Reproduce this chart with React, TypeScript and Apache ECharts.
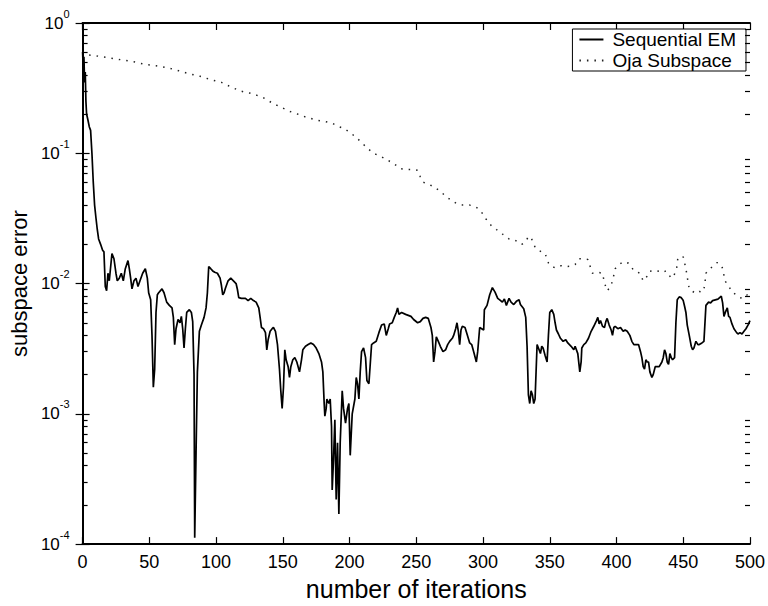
import React, { useEffect, useRef } from "react";
import * as echarts from "echarts";

// Sequential EM: iteration numbers and subspace error
const emIter = [
  0, 0.5, 1, 1.5, 2, 2.5, 3, 4, 5, 6, 7, 8, 9, 10, 11, 12, 13.5, 15, 16, 17, 18, 19, 20, 22, 23.5, 25, 26, 27.5, 29, 30.5,
  32, 34, 35, 36, 37, 38.5, 40, 41.5, 43, 45, 47, 48.5, 49.5, 51, 52, 53, 54, 55, 56, 57, 59.5, 61, 63, 65, 67, 68, 69, 70,
  71.5, 73, 74, 75, 76, 77, 78, 80, 81.5, 82.5, 83.5, 84, 85, 86, 87.5, 89, 91, 92.5, 93.5, 94.5, 96, 97.5, 99, 101, 103,
  104, 105, 106, 107, 109, 111, 113, 115, 116, 117, 119, 122, 124, 126, 128, 130, 132, 133, 134, 135.5, 137, 138, 139,
  140.5, 142, 143, 144.5, 146, 147.5, 148.5, 149.5, 150.5, 151.5, 152.5, 154, 155, 156, 157.5, 159, 160.5, 162.5, 164, 165,
  167, 169, 171, 173, 175, 177, 179, 180, 181, 181.5, 182.5, 183, 184.5, 185.5, 186.5, 187, 188, 189, 190, 191, 192, 193,
  194.5, 195.5, 197, 198.5, 199.5, 200.5, 202, 204, 205, 206, 207, 208, 209, 210.5, 212, 213, 214.5, 215.5, 216.5, 218,
  220, 222, 224, 226, 227.5, 229, 230, 232, 233.5, 235, 236, 237, 239, 242, 244, 246, 248, 251, 253, 255, 257, 259, 261,
  262, 263, 264, 265, 266.5, 268, 270, 272, 273.5, 275, 277, 278, 279.5, 280.5, 281.5, 282.5, 283.5, 284.5, 286.5, 288,
  290, 291.5, 293, 295, 296, 297.5, 299, 300.5, 301, 303, 305, 307, 309, 311, 312.5, 314.5, 316, 317.5, 319.5, 321, 323,
  325, 327, 328, 330.5, 332, 333, 334, 335, 336, 337, 338, 339, 340.5, 342, 343, 344, 345, 346.5, 348, 349, 350, 351.5,
  353, 354, 355, 356.5, 358, 360, 362, 363.5, 366, 368, 369, 371, 372.5, 373.5, 374, 375.5, 377, 379, 381, 383, 385, 386,
  387, 388, 389.5, 391, 392, 393, 394.5, 396, 397, 398, 399, 401, 403, 405, 406.5, 408, 410, 411.5, 413, 415, 416.5, 418,
  419, 420, 421, 422, 423, 424, 425, 426.5, 427.5, 429, 430.5, 432, 434, 435, 436, 437, 438, 439, 440, 441, 442, 443.5,
  444.5, 445.5, 447, 448.5, 450, 451, 452, 453, 454.5, 456, 457, 458, 459.5, 461, 462, 464, 465.5, 466.5, 467, 469, 470.5,
  472, 474, 476, 478.5, 479.5, 480.5, 481.5, 483, 484, 485, 486.5, 488, 490, 491, 492.5, 494, 495.5, 497, 498.5, 500,
];
const emError = [
  0.6, 0.45, 0.55, 0.35, 0.42, 0.25, 0.2, 0.18, 0.16, 0.15, 0.1, 0.06, 0.04, 0.032, 0.026, 0.022, 0.02, 0.018, 0.0175,
  0.0095, 0.0088, 0.012, 0.0105, 0.017, 0.0155, 0.012, 0.0105, 0.011, 0.012, 0.0105, 0.013, 0.015, 0.013, 0.011, 0.0091,
  0.0105, 0.011, 0.0095, 0.0105, 0.012, 0.013, 0.011, 0.0085, 0.0075, 0.004, 0.0016, 0.0022, 0.006, 0.0082, 0.0085,
  0.0091, 0.0085, 0.0072, 0.0068, 0.0065, 0.0055, 0.0034, 0.0045, 0.0053, 0.005, 0.0056, 0.0045, 0.0032, 0.0045, 0.006,
  0.0063, 0.006, 0.0051, 0.002, 0.000112, 0.0005, 0.0021, 0.0043, 0.0048, 0.0055, 0.0065, 0.0085, 0.0135, 0.013, 0.0125,
  0.0122, 0.012, 0.011, 0.0097, 0.0082, 0.0085, 0.0092, 0.0105, 0.011, 0.0105, 0.01, 0.009, 0.0078, 0.0077, 0.0077,
  0.0074, 0.0077, 0.0074, 0.0072, 0.0065, 0.0055, 0.0046, 0.0045, 0.0042, 0.0031, 0.0037, 0.0043, 0.0045, 0.0046, 0.0043,
  0.0034, 0.0022, 0.0015, 0.0011, 0.0016, 0.0031, 0.0026, 0.0023, 0.0019, 0.0023, 0.0026, 0.0027, 0.0025, 0.0021, 0.0026,
  0.0031, 0.0033, 0.0034, 0.0035, 0.0034, 0.0032, 0.0029, 0.0025, 0.0021, 0.0012, 0.00096, 0.0011, 0.0013, 0.0012,
  0.0013, 0.0008, 0.00026, 0.00045, 0.0009, 0.00022, 0.0006, 0.00017, 0.0006, 0.0015, 0.0011, 0.00085, 0.0011, 0.0012,
  0.00048, 0.001, 0.0013, 0.0019, 0.0017, 0.0013, 0.0021, 0.003, 0.0032, 0.0027, 0.0018, 0.0017, 0.0024, 0.0034, 0.0035,
  0.0036, 0.0042, 0.0048, 0.0049, 0.004, 0.0045, 0.0049, 0.005, 0.0055, 0.006, 0.0065, 0.0058, 0.006, 0.0058, 0.0057,
  0.0056, 0.0053, 0.005, 0.0051, 0.0054, 0.0055, 0.0054, 0.0046, 0.004, 0.0025, 0.003, 0.0039, 0.0036, 0.0033, 0.003,
  0.0031, 0.0034, 0.0036, 0.0038, 0.004, 0.0045, 0.005, 0.0043, 0.0034, 0.0044, 0.0047, 0.0046, 0.0041, 0.0035, 0.0034,
  0.003, 0.0025, 0.003, 0.0046, 0.0045, 0.0044, 0.0063, 0.0068, 0.0082, 0.0093, 0.0086, 0.0077, 0.0075, 0.0072, 0.0076,
  0.0068, 0.0077, 0.0072, 0.0069, 0.0073, 0.0075, 0.0069, 0.0064, 0.0055, 0.0033, 0.0014, 0.0012, 0.0015, 0.0014, 0.0012,
  0.0013, 0.0034, 0.0031, 0.0029, 0.0033, 0.0032, 0.0028, 0.0025, 0.004, 0.006, 0.0063, 0.0058, 0.005, 0.0044, 0.0041,
  0.0038, 0.0036, 0.0037, 0.0035, 0.0033, 0.0031, 0.0033, 0.0029, 0.0021, 0.0025, 0.0032, 0.0034, 0.0035, 0.0038, 0.0043,
  0.0047, 0.0052, 0.0055, 0.0049, 0.0052, 0.0047, 0.0046, 0.0051, 0.0054, 0.0048, 0.0044, 0.004, 0.0046, 0.0047, 0.0045,
  0.0046, 0.0043, 0.0044, 0.0043, 0.004, 0.0036, 0.0034, 0.0034, 0.0034, 0.003, 0.0027, 0.0023, 0.0022, 0.0026, 0.0025,
  0.0025, 0.0021, 0.0019, 0.002, 0.0023, 0.0023, 0.0023, 0.0025, 0.0027, 0.0031, 0.0029, 0.0025, 0.0024, 0.0029, 0.0027,
  0.0026, 0.0027, 0.005, 0.0075, 0.0079, 0.0078, 0.0074, 0.0067, 0.006, 0.0048, 0.004, 0.0033, 0.0031, 0.0032, 0.0036,
  0.0034, 0.0034, 0.0035, 0.0036, 0.0055, 0.0068, 0.0072, 0.0071, 0.0074, 0.0075, 0.0076, 0.008, 0.0071, 0.0056, 0.006,
  0.0065, 0.0056, 0.0055, 0.0049, 0.0045, 0.0042, 0.0041, 0.0042, 0.0041, 0.0043, 0.0045, 0.0048, 0.0052,
];

// Oja Subspace: iteration numbers and subspace error
const ojaIter = [
  0, 3, 10, 20, 30, 40, 47, 55, 65, 72, 79, 88, 95, 104, 112, 118.5, 125, 130, 136, 143, 149, 155, 161, 167, 175, 182, 187,
  192, 196, 202, 208, 213, 218, 224, 229, 234, 238.5, 244, 248, 251, 253, 255, 259, 262, 267, 273, 277, 280.5, 285, 290,
  294, 297.5, 300, 302.5, 306, 310, 314.5, 319.5, 324, 329, 332, 334, 336, 339, 341.5, 344, 346.5, 349, 351, 354, 358.5,
  362, 366, 369, 372, 375, 378.5, 382, 386, 389.5, 391, 393, 395, 397, 399, 401, 404, 406, 409, 413, 417.5, 420, 422, 425,
  428, 432, 435, 437, 439, 441, 443, 445, 446, 450, 452, 453, 454.5, 457, 459.5, 462, 464.5, 466, 467, 470, 472, 475.5,
  479, 481.5, 484, 486.5, 489, 492.5, 495, 498, 500,
];
const ojaError = [
  0.6, 0.57, 0.56, 0.54, 0.52, 0.5, 0.48, 0.47, 0.45, 0.43, 0.41, 0.39, 0.37, 0.35, 0.32, 0.3, 0.29, 0.28, 0.265, 0.24,
  0.225, 0.21, 0.2, 0.19, 0.18, 0.175, 0.17, 0.16, 0.155, 0.14, 0.124, 0.11, 0.1, 0.094, 0.088, 0.082, 0.076, 0.075,
  0.075, 0.074, 0.066, 0.06, 0.058, 0.056, 0.052, 0.046, 0.043, 0.041, 0.04, 0.04, 0.039, 0.037, 0.034, 0.031, 0.028,
  0.026, 0.024, 0.022, 0.0215, 0.02, 0.021, 0.023, 0.0225, 0.019, 0.018, 0.0175, 0.017, 0.0144, 0.0136, 0.0132, 0.0137,
  0.0135, 0.0136, 0.014, 0.0155, 0.0155, 0.0153, 0.012, 0.0122, 0.012, 0.0101, 0.0088, 0.0093, 0.0104, 0.013, 0.0136,
  0.0145, 0.0147, 0.0143, 0.0126, 0.012, 0.0105, 0.011, 0.0125, 0.0123, 0.0125, 0.0122, 0.0125, 0.0118, 0.011, 0.0115,
  0.013, 0.0158, 0.016, 0.013, 0.0112, 0.0091, 0.0087, 0.0084, 0.0087, 0.0086, 0.0095, 0.012, 0.013, 0.0135, 0.0145,
  0.0136, 0.0104, 0.0096, 0.0086, 0.0083, 0.0078, 0.0077, 0.0082, 0.0075,
];

// Axis tick values
const xTicks = [0, 50, 100, 150, 200, 250, 300, 350, 400, 450, 500];
const decades = [1e-4, 1e-3, 1e-2, 1e-1];
const minorMultipliers = [2, 3, 4, 5, 6, 7, 8, 9];

const seriesNames = ["Sequential EM", "Oja Subspace"];

const FONT = "'Liberation Sans', Arial, Helvetica, sans-serif";

export default function App() {
  const ref = useRef<HTMLDivElement>(null);

  useEffect(() => {
    if (!ref.current) return;
    const chart = echarts.init(ref.current, null, { renderer: "svg" });

    const emData = emIter.map((x, i) => [x, emError[i]]);
    const ojaData = ojaIter.map((x, i) => [x, ojaError[i]]);

    const xMin = xTicks[0];
    const xMax = xTicks[xTicks.length - 1];
    const xInterval = xTicks[1] - xTicks[0];
    // minor tick length in data units along x (about 5 px)
    const minorLen = (xMax - xMin) * 0.0075;

    const minorValues: number[] = [];
    decades.forEach((d) => minorMultipliers.forEach((m) => minorValues.push(d * m)));
    const minorLines: any[] = [];
    minorValues.forEach((v) => {
      minorLines.push([{ coord: [xMin, v] }, { coord: [xMin + minorLen, v] }]);
      minorLines.push([{ coord: [xMax - minorLen, v] }, { coord: [xMax, v] }]);
    });

    const axisLine = { show: true, lineStyle: { color: "#000", width: 2 } };
    const tick = { show: true, inside: true, length: 7, lineStyle: { color: "#000", width: 1.2 } };

    const option: any = {
      animation: false,
      backgroundColor: "#fff",
      grid: { left: 76, right: 13, top: 23, bottom: 53, containLabel: false },
      legend: {
        data: seriesNames,
        orient: "vertical",
        right: 22,
        top: 29,
        padding: [1, 10, 1, 6],
        itemGap: 2,
        itemWidth: 24,
        itemHeight: 18,
        backgroundColor: "#fff",
        borderColor: "#000",
        borderWidth: 1,
        borderRadius: 0,
        itemStyle: { opacity: 0 },
        textStyle: { fontFamily: FONT, fontSize: 19, color: "#000", padding: [0, 0, 0, 4] },
      },
      xAxis: [
        {
          type: "value",
          min: xMin,
          max: xMax,
          interval: xInterval,
          name: "number of iterations",
          nameLocation: "middle",
          nameGap: 26,
          nameTextStyle: { fontFamily: FONT, fontSize: 25, color: "#000" },
          axisLine,
          axisTick: tick,
          axisLabel: { fontFamily: FONT, fontSize: 18, color: "#000", margin: 9 },
          splitLine: { show: false },
        },
        {
          type: "value",
          position: "top",
          min: xMin,
          max: xMax,
          interval: xInterval,
          axisLine,
          axisTick: tick,
          axisLabel: { show: false },
          splitLine: { show: false },
        },
      ],
      yAxis: [
        {
          type: "log",
          logBase: 10,
          min: 1e-4,
          max: 1,
          name: "subspace error",
          nameLocation: "middle",
          nameGap: 41,
          nameTextStyle: { fontFamily: FONT, fontSize: 22, color: "#000" },
          axisLine,
          axisTick: tick,
          axisLabel: {
            margin: 13,
            lineHeight: 30,
            formatter: (v: number) => `{b|10}{s|${Math.round(Math.log10(v))}}`,
            rich: {
              b: { fontFamily: FONT, fontSize: 17, lineHeight: 30, verticalAlign: "middle", color: "#000" },
              s: { fontFamily: FONT, fontSize: 11, lineHeight: 10, verticalAlign: "top", color: "#000" },
            },
          },
          splitLine: { show: false },
        },
        {
          type: "log",
          logBase: 10,
          min: 1e-4,
          max: 1,
          position: "right",
          axisLine,
          axisTick: tick,
          axisLabel: { show: false },
          splitLine: { show: false },
        },
      ],
      series: [
        {
          name: seriesNames[0],
          type: "line",
          data: emData,
          symbol: "none",
          showSymbol: false,
          lineStyle: { color: "#000", width: 1.7, type: "solid" },
          itemStyle: { color: "#000" },
          z: 3,
        },
        {
          name: seriesNames[1],
          type: "line",
          data: ojaData,
          symbol: "none",
          showSymbol: false,
          lineStyle: { color: "#222", width: 1.5, type: [1.5, 6] },
          itemStyle: { color: "#222" },
          z: 2,
          markLine: {
            silent: true,
            symbol: ["none", "none"],
            label: { show: false },
            emphasis: { disabled: true },
            lineStyle: { color: "#000", width: 1.2, type: "solid" },
            data: minorLines,
          },
        },
      ],
    };

    chart.setOption(option);
    return () => chart.dispose();
  }, []);

  return (
    <div
      ref={ref}
      style={{ position: "absolute", left: 0, top: 0, width: 768, height: 606, background: "#fff" }}
    />
  );
}
